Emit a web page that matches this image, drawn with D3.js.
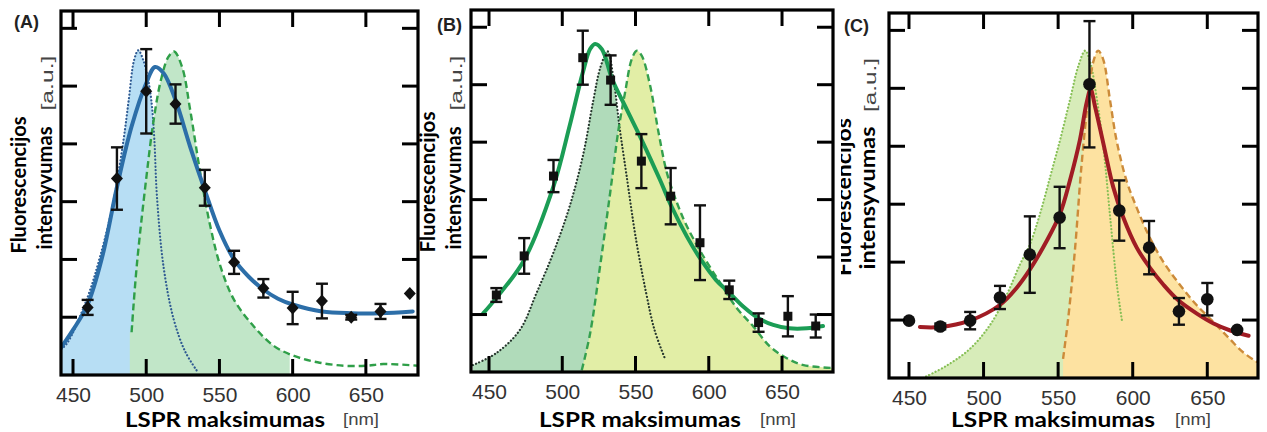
<!DOCTYPE html>
<html><head><meta charset="utf-8">
<script src="https://cdn.jsdelivr.net/npm/d3@7"></script>
<style>body{margin:0;background:#fff}svg{display:block}</style>
</head><body><svg id="c" width="1267" height="432"></svg>
<script>
// ---------- shared axis data ----------
const xTicks = [450, 500, 550, 600, 650];
const yTicks = [1, 2, 3, 4, 5, 6];
const panelLabels = ["(A)", "(B)", "(C)"];
const xTitle = "LSPR maksimumas";
const xUnit = "[nm]";
const yTitle1 = "Fluorescencijos";
const yTitle2 = "intensyvumas";
const yUnit = "[a.u.]";

// ---------- Panel A ----------
const aPointX = [460, 480, 500, 520, 540, 560, 580, 600, 620, 640, 660, 680];
const aPointY = [1.17, 3.40, 4.91, 4.69, 3.24, 1.95, 1.50, 1.16, 1.28, 1.00, 1.10, 1.41];
const aErr    = [0.13, 0.54, 0.73, 0.34, 0.31, 0.20, 0.16, 0.28, 0.30, 0.04, 0.13, 0];
const aFitX = [442, 450, 460, 470, 480, 490, 500, 506, 512, 520, 530, 540, 550, 560, 570, 580, 590, 600, 620, 640, 660, 682];
const aFitY = [0.48, 0.78, 1.22, 2.05, 3.25, 4.30, 5.05, 5.33, 5.22, 4.76, 3.95, 3.20, 2.50, 2.00, 1.70, 1.48, 1.32, 1.22, 1.10, 1.07, 1.07, 1.10];
const aDotX = [442, 446, 459.4, 468.5, 477.4, 484.5, 488, 491.7, 494.6, 498, 501, 503.5, 505.5, 507.3, 511.8, 518.7, 526.7, 534.7];
const aDotY = [0.45, 0.55, 1.31, 2.05, 2.98, 4.07, 4.75, 5.45, 5.62, 5.45, 5.15, 4.75, 4.10, 3.10, 1.88, 0.97, 0.40, 0.07];
const aDashX = [490, 493.5, 500, 505, 510, 515, 519, 524.5, 530, 536.9, 543.8, 550.7, 559.8, 573.5, 587.3, 601, 617, 635, 650, 662, 686];
const aDashY = [0.74, 1.88, 3.40, 4.40, 5.10, 5.50, 5.60, 5.33, 4.59, 3.50, 2.57, 1.88, 1.31, 0.84, 0.50, 0.33, 0.22, 0.16, 0.16, 0.19, 0.16];

// ---------- Panel B ----------
const bPointX = [455, 474, 494, 514, 533, 554, 574, 594, 614, 634, 654, 673];
const bPointY = [1.34, 2.02, 3.41, 5.47, 5.08, 3.67, 3.06, 2.25, 1.43, 0.86, 0.97, 0.80];
const bErr    = [0.12, 0.31, 0.28, 0.47, 0.43, 0.47, 0.49, 0.65, 0.16, 0.16, 0.35, 0.20];
const bFitX = [446, 455, 474, 494, 505, 514, 519, 522.4, 527, 534, 544, 554, 566.6, 574.6, 585, 594, 605, 614, 623.5, 633.7, 644, 655, 667, 678];
const bFitY = [1.02, 1.29, 1.95, 3.23, 4.28, 5.21, 5.62, 5.71, 5.62, 5.10, 4.57, 4.05, 3.35, 2.88, 2.36, 1.98, 1.60, 1.38, 1.14, 0.94, 0.82, 0.76, 0.76, 0.80];
const bDotX = [439, 455, 471, 482.5, 494, 505, 514.4, 521, 526, 531, 535, 539, 543.6, 550.4, 557.3, 563, 570];
const bDotY = [0.12, 0.33, 0.73, 1.38, 2.08, 2.88, 3.80, 4.70, 5.30, 5.58, 5.10, 4.28, 3.47, 2.30, 1.37, 0.73, 0.24];
const bDashX = [513.3, 519, 525.8, 532.7, 538.4, 542.9, 547.5, 550.9, 554.3, 560, 565.7, 571.4, 578.2, 585, 596.4, 607.8, 619.2, 630.5, 641.9, 653.3, 664.7, 685];
const bDashY = [0.03, 0.67, 1.84, 3.12, 4.22, 4.87, 5.45, 5.59, 5.50, 4.98, 4.17, 3.47, 2.95, 2.54, 2.01, 1.55, 1.11, 0.79, 0.44, 0.24, 0.12, 0.07];

// ---------- Panel C ----------
const cPointX = [450, 471, 491, 511, 531, 551, 571, 591, 611, 631, 650, 670];
const cPointY = [0.99, 0.89, 0.99, 1.39, 2.13, 2.77, 5.07, 2.89, 2.25, 1.15, 1.36, 0.83];
const cErr    = [0, 0.05, 0.15, 0.20, 0.66, 0.53, 1.09, 0.52, 0.46, 0.23, 0.28, 0];
const cFitX = [457.3, 470.6, 490.7, 510.9, 522, 531, 542.2, 551.2, 557.9, 564.6, 569.1, 571.8, 574.7, 580.3, 587, 593.7, 602.7, 611.6, 620.6, 630.6, 643, 654.2, 665.4, 677.7];
const cFitY = [0.88, 0.88, 0.99, 1.26, 1.55, 1.87, 2.36, 2.83, 3.41, 4.11, 4.75, 4.98, 4.69, 4.05, 3.29, 2.77, 2.25, 1.90, 1.61, 1.34, 1.11, 0.94, 0.82, 0.73];
const cDotX = [459.4, 475, 490.7, 504.2, 515.4, 524.4, 531, 537.8, 544.6, 551.3, 558, 563.6, 568.1, 571.5, 576, 580.5, 584.9, 589.4, 592.8];
const cDotY = [0.00, 0.21, 0.50, 0.91, 1.43, 1.96, 2.30, 2.83, 3.47, 4.11, 4.81, 5.39, 5.65, 5.45, 4.81, 3.94, 2.77, 1.61, 0.99];
const cDashX = [553.3, 556.7, 561.2, 565.6, 570.1, 573.5, 576.8, 580.2, 584.7, 589.1, 595.8, 602.5, 611.5, 620.4, 631.6, 642.8, 654, 665.2, 674.2, 683.8];
const cDashY = [0.33, 1.02, 2.19, 3.65, 4.81, 5.45, 5.65, 5.50, 4.81, 4.11, 3.41, 2.95, 2.42, 2.01, 1.61, 1.26, 0.97, 0.67, 0.44, 0.27];

const zip = (xs, ys) => xs.map((x, i) => ({x, y: ys[i]}));

const panels = [
  { label: panelLabels[0], frame: {x0: 61, x1: 418, y0: 11, y1: 375}, xDom: [441.8, 685.6], yDom: [0, 6.3],
    points: aPointX.map((x, i) => ({x, y: aPointY[i], e: aErr[i]})), marker: "diamond",
    fit: zip(aFitX, aFitY), fitColor: "#2c6ea8",
    dot: zip(aDotX, aDotY), dotColor: "#2f5a92", dotFill: "#b7def4",
    dash: zip(aDashX, aDashY), dashColor: "#2f9f48", dashFill: "#c1e6c8", dashFillRange: [488.6, 598],
    lab: {px: 14, py: 28, f1x: 26, f1y: 185, f1L: 137, f2x: 52, f2y: 188, f2L: 123, ux: 53, uy: 83, uL: 55, clip: null},
    xt: {cx: 230, L: 200, ux: 343} },
  { label: panelLabels[1], frame: {x0: 471, x1: 833, y0: 10, y1: 372}, xDom: [437.7, 684.8], yDom: [0, 6.3],
    points: bPointX.map((x, i) => ({x, y: bPointY[i], e: bErr[i]})), marker: "square",
    fit: zip(bFitX, bFitY), fitColor: "#1b9d55",
    dot: zip(bDotX, bDotY), dotColor: "#26362d", dotFill: "#b0dbba",
    dash: zip(bDashX, bDashY), dashColor: "#34a04e", dashFill: "#e2eea6", dashFillRange: null,
    lab: {px: 437, py: 31, f1x: 435, f1y: 182, f1L: 141, f2x: 461, f2y: 188, f2L: 123, ux: 462, uy: 83, uL: 55, clip: null},
    xt: {cx: 645, L: 202, ux: 760} },
  { label: panelLabels[2], frame: {x0: 889, x1: 1258, y0: 13, y1: 378}, xDom: [436.6, 684], yDom: [0, 6.3],
    points: cPointX.map((x, i) => ({x, y: cPointY[i], e: cErr[i]})), marker: "circle",
    fit: zip(cFitX, cFitY), fitColor: "#a01c24",
    dot: zip(cDotX, cDotY), dotColor: "#86bf55", dotFill: "#d7ecb9",
    dash: zip(cDashX, cDashY), dashColor: "#cc8b3a", dashFill: "#fde2a1", dashFillRange: null,
    lab: {px: 844, py: 32, f1x: 851, f1y: 197, f1L: 158, f2x: 875, f2y: 198, f2L: 143, ux: 876, uy: 85, uL: 54, clip: 841},
    xt: {cx: 1058, L: 204, ux: 1175} }
];

const svg = d3.select("#c");
const defs = svg.append("defs");
const TICKFONT = "'Liberation Sans', Arial, sans-serif";
const TITLEFONT = "Lato, 'Open Sans', sans-serif";

panels.forEach((p, pi) => {
  const f = p.frame;
  const x = d3.scaleLinear().domain(p.xDom).range([f.x0, f.x1]);
  const y = d3.scaleLinear().domain(p.yDom).range([f.y1, f.y0]);
  const g = svg.append("g");

  const clipId = "clip" + pi;
  defs.append("clipPath").attr("id", clipId).append("rect")
    .attr("x", f.x0).attr("y", f.y0).attr("width", f.x1 - f.x0).attr("height", f.y1 - f.y0);
  const plot = g.append("g").attr("clip-path", `url(#${clipId})`);

  const curve = d3.curveCatmullRom.alpha(0.5);
  const area = d3.area().x(d => x(d.x)).y0(y(0)).y1(d => y(d.y)).curve(curve);
  const line = d3.line().x(d => x(d.x)).y(d => y(d.y)).curve(curve);

  // fills
  plot.append("path").datum(p.dot).attr("d", area).attr("fill", p.dotFill);
  let dashFillG = plot;
  if (p.dashFillRange) {
    const cid2 = "clipfill" + pi;
    defs.append("clipPath").attr("id", cid2).append("rect")
      .attr("x", x(p.dashFillRange[0])).attr("y", f.y0)
      .attr("width", x(p.dashFillRange[1]) - x(p.dashFillRange[0])).attr("height", f.y1 - f.y0);
    dashFillG = plot.append("g").attr("clip-path", `url(#${cid2})`);
  }
  dashFillG.append("path").datum(p.dash).attr("d", area).attr("fill", p.dashFill);
  if (p.dashFillRange) {
    dashFillG.append("rect").attr("x", x(p.dashFillRange[0])).attr("y", y(p.dash[0].y))
      .attr("width", x(p.dash[0].x) - x(p.dashFillRange[0]) + 1).attr("height", y(0) - y(p.dash[0].y))
      .attr("fill", p.dashFill);
  }

  // dotted & dashed curves
  plot.append("path").datum(p.dot).attr("d", line).attr("fill", "none")
    .attr("stroke", p.dotColor).attr("stroke-width", 2.2).attr("stroke-dasharray", "0.1,3.4")
    .attr("stroke-linecap", "round");
  plot.append("path").datum(p.dash).attr("d", line).attr("fill", "none")
    .attr("stroke", p.dashColor).attr("stroke-width", 2.4).attr("stroke-dasharray", "7,4");

  // fit
  plot.append("path").datum(p.fit).attr("d", line).attr("fill", "none")
    .attr("stroke", p.fitColor).attr("stroke-width", 4).attr("stroke-linecap", "round");

  // error bars
  const eb = g.append("g").attr("stroke", "#111").attr("stroke-width", 2.4);
  p.points.filter(d => d.e > 0).forEach(d => {
    const cx = x(d.x), yt = y(d.y + d.e), yb = y(d.y - d.e);
    eb.append("line").attr("x1", cx).attr("x2", cx).attr("y1", yt).attr("y2", yb);
    eb.append("line").attr("x1", cx - 6).attr("x2", cx + 6).attr("y1", yt).attr("y2", yt);
    eb.append("line").attr("x1", cx - 6).attr("x2", cx + 6).attr("y1", yb).attr("y2", yb);
  });
  // markers
  const mk = g.append("g").attr("fill", "#111");
  p.points.forEach(d => {
    const cx = x(d.x), cy = y(d.y);
    if (p.marker === "diamond") {
      mk.append("path").attr("d", `M${cx},${cy - 6.5}L${cx + 6},${cy}L${cx},${cy + 6.5}L${cx - 6},${cy}Z`);
    } else if (p.marker === "square") {
      mk.append("rect").attr("x", cx - 4.5).attr("y", cy - 4.5).attr("width", 9).attr("height", 9);
    } else {
      mk.append("circle").attr("cx", cx).attr("cy", cy).attr("r", 6.3);
    }
  });

  // ticks (inward on all four sides)
  const tk = g.append("g").attr("stroke", "#000").attr("stroke-width", 3);
  const TL = 16;
  xTicks.forEach(t => {
    tk.append("line").attr("x1", x(t)).attr("x2", x(t)).attr("y1", f.y1).attr("y2", f.y1 - TL);
    tk.append("line").attr("x1", x(t)).attr("x2", x(t)).attr("y1", f.y0).attr("y2", f.y0 + TL);
  });
  yTicks.forEach(t => {
    tk.append("line").attr("x1", f.x0).attr("x2", f.x0 + TL).attr("y1", y(t)).attr("y2", y(t));
    tk.append("line").attr("x1", f.x1).attr("x2", f.x1 - TL).attr("y1", y(t)).attr("y2", y(t));
  });
  // frame
  g.append("rect").attr("x", f.x0).attr("y", f.y0).attr("width", f.x1 - f.x0).attr("height", f.y1 - f.y0)
    .attr("fill", "none").attr("stroke", "#000").attr("stroke-width", 3.2);

  // x tick labels via axis scale
  const xAxis = d3.axisBottom(x).tickValues(xTicks).tickSize(0).tickPadding(0).tickFormat(d3.format("d"));
  const ax = g.append("g").attr("transform", `translate(0,${f.y1 + 27})`).call(xAxis);
  ax.select(".domain").remove();
  ax.selectAll("text").attr("font-family", TICKFONT).attr("font-size", 21).attr("fill", "#333").attr("dy", 0);

  // x title
  g.append("text").attr("x", p.xt.cx - 5).attr("y", 427).attr("text-anchor", "middle")
    .attr("font-family", TITLEFONT).attr("font-weight", "bold").attr("font-size", 20).attr("fill", "#000")
    .attr("textLength", p.xt.L).attr("lengthAdjust", "spacingAndGlyphs").text(xTitle);
  g.append("text").attr("x", p.xt.ux).attr("y", 425)
    .attr("font-family", TICKFONT).attr("font-size", 17).attr("fill", "#444")
    .attr("textLength", 36).attr("lengthAdjust", "spacingAndGlyphs").text(xUnit);

  // y titles
  const L = p.lab;
  let yg = g.append("g");
  if (L.clip) {
    const cid3 = "clipy" + pi;
    defs.append("clipPath").attr("id", cid3).append("rect").attr("x", L.clip).attr("y", 0).attr("width", 60).attr("height", 432);
    yg = g.append("g").attr("clip-path", `url(#${cid3})`);
  }
  yg.append("text").attr("transform", `translate(${L.f1x},${L.f1y}) rotate(-90)`).attr("text-anchor", "middle")
    .attr("font-family", TITLEFONT).attr("font-weight", "bold").attr("font-size", 21).attr("fill", "#000")
    .attr("textLength", L.f1L).attr("lengthAdjust", "spacingAndGlyphs").text(yTitle1);
  g.append("text").attr("transform", `translate(${L.f2x},${L.f2y}) rotate(-90)`).attr("text-anchor", "middle")
    .attr("font-family", TITLEFONT).attr("font-weight", "bold").attr("font-size", 21).attr("fill", "#000")
    .attr("textLength", L.f2L).attr("lengthAdjust", "spacingAndGlyphs").text(yTitle2);
  g.append("text").attr("transform", `translate(${L.ux},${L.uy}) rotate(-90)`).attr("text-anchor", "middle")
    .attr("font-family", TICKFONT).attr("font-size", 17).attr("fill", "#444")
    .attr("textLength", L.uL).attr("lengthAdjust", "spacingAndGlyphs").text(yUnit);

  // panel label
  g.append("text").attr("x", L.px).attr("y", L.py).attr("font-family", TICKFONT).attr("font-weight", "bold")
    .attr("font-size", 18).attr("fill", "#222").text(p.label);
});
</script></body></html>
